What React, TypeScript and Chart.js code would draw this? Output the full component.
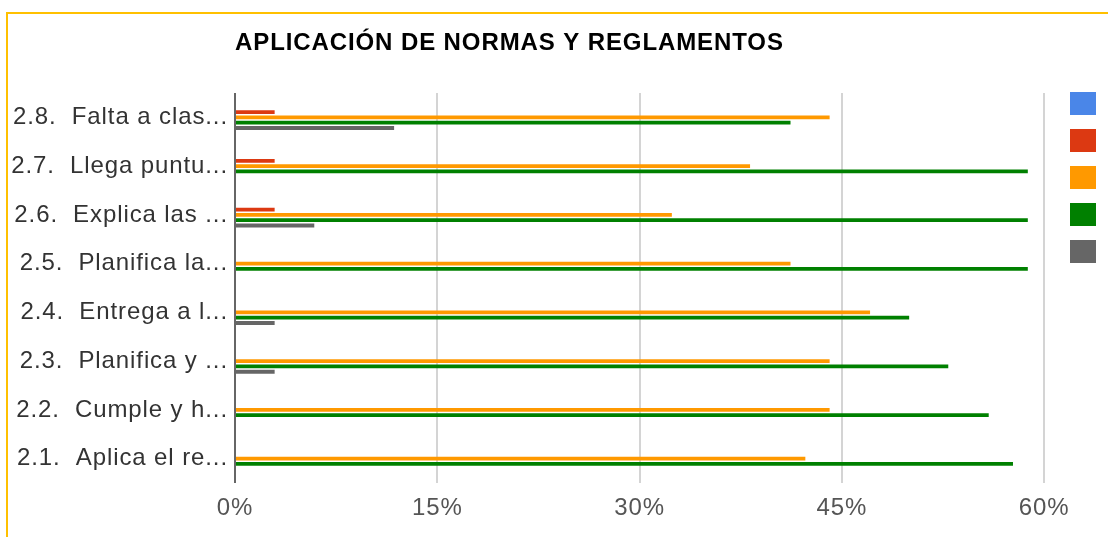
import React, { useEffect, useRef } from "react";
import { Chart, registerables } from "chart.js";

Chart.register(...registerables);

const chartTitle = "APLICACIÓN DE NORMAS Y REGLAMENTOS";

const categories = [
  "2.8.  Falta a clas...",
  "2.7.  Llega puntu...",
  "2.6.  Explica las ...",
  "2.5.  Planifica la...",
  "2.4.  Entrega a l...",
  "2.3.  Planifica y ...",
  "2.2.  Cumple y h...",
  "2.1.  Aplica el re...",
];

const seriesNames = ["Serie 1", "Serie 2", "Serie 3", "Serie 4", "Serie 5"];
const seriesColors = ["#4a86e8", "#dc3912", "#ff9900", "#008000", "#666666"];

const blueValues = [0, 0, 0, 0, 0, 0, 0, 0];
const redValues = [2.94, 2.94, 2.94, 0, 0, 0, 0, 0];
const orangeValues = [44.1, 38.2, 32.4, 41.2, 47.1, 44.1, 44.1, 42.3];
const greenValues = [41.2, 58.8, 58.8, 58.8, 50.0, 52.9, 55.9, 57.7];
const grayValues = [11.8, 0, 5.88, 0, 2.94, 2.94, 0, 0];

const xTicks = [0, 15, 30, 45, 60];

const FONT = "'Liberation Sans', Arial, sans-serif";

const legendPlugin = {
  id: "squareLegend",
  beforeDraw(chart: any) {
    chart.ctx.letterSpacing = "0.9px";
  },
  afterDraw(chart: any) {
    const { ctx, chartArea } = chart;
    ctx.save();
    ctx.letterSpacing = "0px";
    chart.data.datasets.forEach((ds: any, i: number) => {
      ctx.fillStyle = ds.backgroundColor;
      ctx.fillRect(chartArea.right + 26, chartArea.top - 1 + i * 37, 26, 23);
    });
    ctx.restore();
    ctx.letterSpacing = "0px";
  },
};

export default function App() {
  const canvasRef = useRef<HTMLCanvasElement | null>(null);

  useEffect(() => {
    if (!canvasRef.current) return;
    const allValues = [blueValues, redValues, orangeValues, greenValues, grayValues];
    const chart = new Chart(canvasRef.current, {
      type: "bar",
      data: {
        labels: categories,
        datasets: allValues.map((vals, i) => ({
          label: seriesNames[i],
          data: vals,
          backgroundColor: seriesColors[i],
          borderWidth: 0,
          categoryPercentage: 0.545,
          barPercentage: 0.72,
        })),
      },
      options: {
        indexAxis: "y",
        animation: false,
        responsive: false,
        maintainAspectRatio: false,
        layout: { padding: { left: 0, right: 64, top: 0, bottom: 0 } },
        plugins: {
          legend: { display: false },
          tooltip: { enabled: false },
          title: {
            display: true,
            text: chartTitle,
            fullSize: false,
            align: "start",
            color: "#000000",
            font: { family: FONT, size: 24, weight: "bold", lineHeight: 30 / 24 },
            padding: { top: 28, bottom: 35 },
          },
        },
        scales: {
          x: {
            type: "linear",
            min: xTicks[0],
            max: xTicks[xTicks.length - 1],
            afterBuildTicks: (scale: any) => {
              scale.ticks = xTicks.map((v) => ({ value: v }));
            },
            afterFit: (scale: any) => {
              scale.height = 54;
            },
            ticks: {
              callback: (v: any) => v + "%",
              color: "#555555",
              padding: 11,
              font: { family: FONT, size: 24 },
            },
            grid: {
              drawTicks: false,
              lineWidth: 2,
              color: (ctx: any) => (ctx.tick && ctx.tick.value === 0 ? "#666666" : "#d4d4d4"),
            },
            border: { display: false },
          },
          y: {
            afterFit: (scale: any) => {
              scale.width = 235;
            },
            ticks: {
              color: "#333333",
              padding: 7,
              font: { family: FONT, size: 24 },
            },
            grid: { display: false, drawTicks: false },
            border: { display: false },
          },
        },
      },
      plugins: [legendPlugin],
    } as any);
    return () => chart.destroy();
  }, []);

  return (
    <div
      style={{
        position: "fixed",
        left: 0,
        top: 0,
        width: 1108,
        height: 537,
        background: "#ffffff",
        overflow: "hidden",
      }}
    >
      <div
        style={{
          position: "absolute",
          left: 6,
          top: 12,
          width: 1300,
          height: 800,
          borderTop: "2px solid #ffc000",
          borderLeft: "2px solid #ffc000",
        }}
      />
      <canvas
        ref={canvasRef}
        width={1108}
        height={537}
        style={{ position: "absolute", left: 0, top: 0, width: 1108, height: 537 }}
      />
    </div>
  );
}
